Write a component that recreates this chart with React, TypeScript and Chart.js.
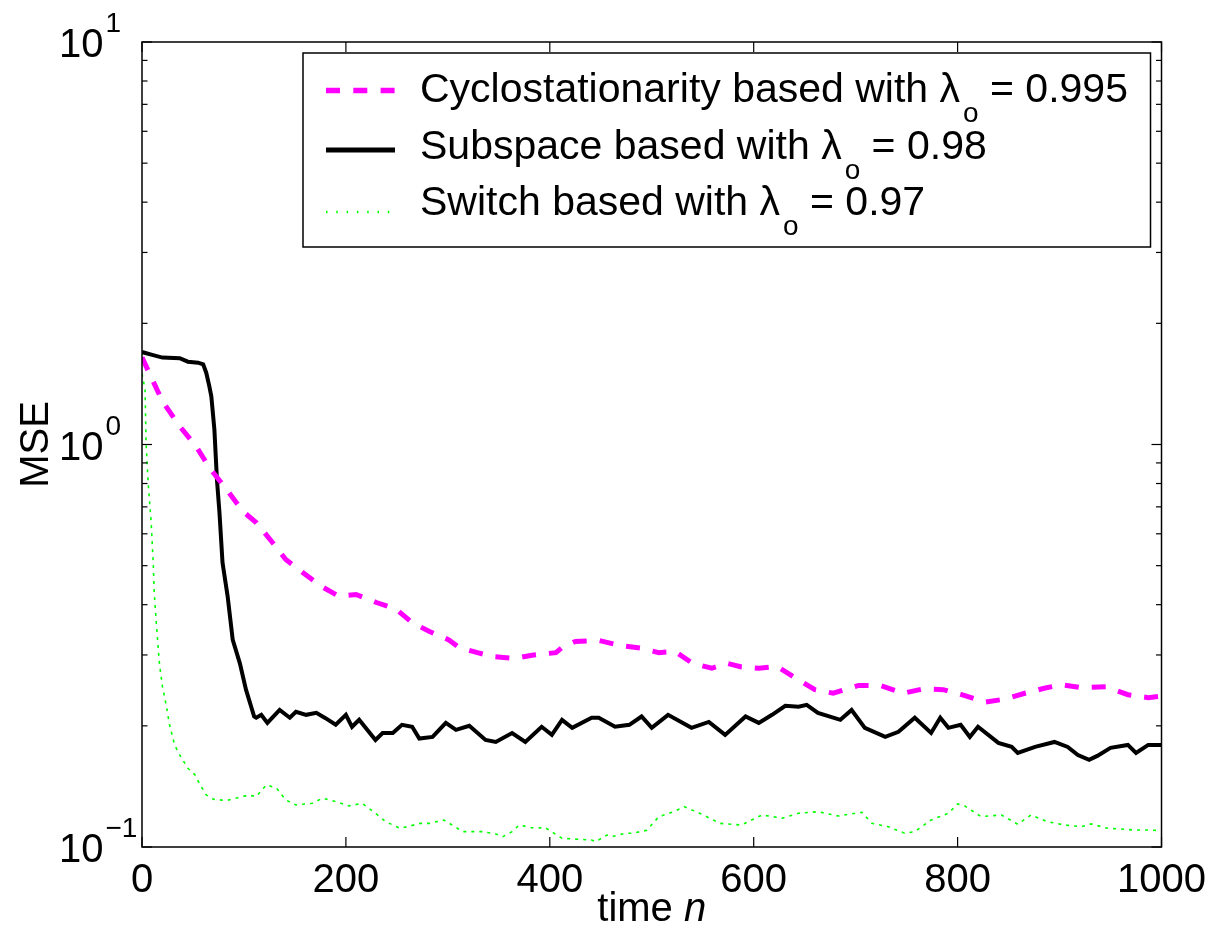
import React, { useEffect, useRef } from 'react';
import { Chart, registerables } from 'chart.js';

Chart.register(...registerables);

const FONT = '"Liberation Sans", Arial, Helvetica, sans-serif';

// ---- data ----
const cycloN = [0, 20, 37, 53, 66, 83, 99, 112, 127, 141, 158, 176, 193, 210, 230, 249, 265, 282, 301, 311, 329, 345, 365, 384, 406, 412, 425, 448, 471, 489, 507, 523, 540, 559, 574, 588, 605, 623, 641, 660, 678, 703, 724, 747, 766, 786, 804, 827, 846, 866, 885, 902, 921, 946, 967, 987, 1000];
const cycloMSE = [1.646, 1.281, 1.11, 0.99, 0.877, 0.773, 0.682, 0.64, 0.575, 0.518, 0.48, 0.444, 0.42, 0.424, 0.405, 0.39, 0.361, 0.343, 0.327, 0.313, 0.304, 0.297, 0.294, 0.3, 0.304, 0.313, 0.324, 0.326, 0.316, 0.312, 0.304, 0.306, 0.286, 0.278, 0.286, 0.28, 0.278, 0.281, 0.263, 0.246, 0.241, 0.252, 0.252, 0.241, 0.247, 0.246, 0.239, 0.229, 0.233, 0.241, 0.248, 0.253, 0.249, 0.25, 0.239, 0.235, 0.237];

const subspaceN = [0, 10, 20, 37, 45, 55, 60, 63, 66, 68, 71, 73.5, 76, 79, 84, 89, 96, 102, 110, 112, 117, 123, 135, 145, 151, 161, 171, 180, 190, 200, 206, 213, 229, 236, 246, 255, 265, 272, 285, 298, 308, 321, 337, 347, 363, 376, 392, 402, 412, 422, 441, 448, 464, 478, 490, 500, 516, 539, 556, 572, 592, 605, 618, 631, 644, 652, 663, 685, 696, 709, 729, 742, 758, 774, 783, 791, 803, 812, 820, 840, 853, 859, 876, 895, 908, 918, 929, 937, 950, 967, 975, 987, 1000];
const subspaceMSE = [1.697, 1.67, 1.644, 1.638, 1.606, 1.597, 1.581, 1.508, 1.397, 1.318, 1.09, 0.818, 0.676, 0.508, 0.4195, 0.327, 0.286, 0.246, 0.211, 0.2095, 0.213, 0.2034, 0.219, 0.2095, 0.2167, 0.213, 0.2154, 0.209, 0.2012, 0.213, 0.1989, 0.207, 0.1845, 0.192, 0.192, 0.2012, 0.199, 0.186, 0.1877, 0.2034, 0.1954, 0.2, 0.1845, 0.1824, 0.192, 0.1824, 0.1989, 0.1899, 0.207, 0.1977, 0.2095, 0.2095, 0.1989, 0.2012, 0.211, 0.1977, 0.213, 0.1977, 0.2045, 0.1899, 0.211, 0.2034, 0.213, 0.2243, 0.223, 0.2255, 0.2154, 0.207, 0.219, 0.1977, 0.1877, 0.1932, 0.2095, 0.192, 0.2095, 0.1977, 0.2012, 0.1877, 0.1989, 0.1814, 0.1773, 0.1713, 0.1773, 0.1824, 0.1773, 0.1693, 0.1646, 0.1684, 0.1763, 0.1793, 0.1713, 0.1793, 0.1793];

const switchN = [0, 3, 4, 6, 9, 11, 12, 14, 17, 20, 24, 27, 32, 37, 45, 52, 57, 63, 70, 83, 92, 105, 112, 122, 132, 141, 151, 167, 177, 190, 203, 216, 229, 239, 253, 260, 273, 282, 296, 307, 314, 321, 334, 347, 354, 363, 370, 385, 395, 412, 428, 441, 445, 456, 461, 474, 481, 495, 507, 520, 532, 547, 567, 588, 608, 628, 644, 663, 683, 706, 716, 732, 748, 758, 774, 791, 800, 807, 823, 843, 859, 872, 888, 905, 921, 931, 947, 964, 973, 986, 1000];
const switchMSE = [1.5, 1.37, 1.01, 0.805, 0.64, 0.509, 0.428, 0.361, 0.287, 0.2506, 0.2234, 0.2012, 0.1793, 0.1693, 0.1569, 0.1511, 0.1427, 0.1347, 0.1314, 0.1304, 0.1322, 0.1347, 0.1334, 0.1427, 0.14, 0.1309, 0.1272, 0.1284, 0.1322, 0.1296, 0.1265, 0.1284, 0.1213, 0.1156, 0.1113, 0.1123, 0.1145, 0.1145, 0.1167, 0.1123, 0.1092, 0.1092, 0.1092, 0.1077, 0.1061, 0.1092, 0.1134, 0.1113, 0.1119, 0.1051, 0.1045, 0.1041, 0.1031, 0.1071, 0.1061, 0.1082, 0.1082, 0.11, 0.119, 0.122, 0.1259, 0.1213, 0.1145, 0.1134, 0.1201, 0.1179, 0.1213, 0.1224, 0.1194, 0.122, 0.1145, 0.1123, 0.1082, 0.1092, 0.1167, 0.1213, 0.1279, 0.1265, 0.119, 0.1201, 0.1139, 0.1201, 0.1156, 0.1134, 0.1123, 0.1141, 0.1113, 0.1107, 0.1102, 0.1102, 0.1098];

const xTicks = [0, 200, 400, 600, 800, 1000];
const yDecades = [0.1, 1, 10];
const yExponents = ['\u22121', '0', '1'];
const legendTexts = ['Cyclostationarity based with \u03bb', 'Subspace based with \u03bb', 'Switch based with \u03bb'];
const legendSub = 'o';
const legendValues = [' = 0.995', ' = 0.98', ' = 0.97'];
const xTitle = 'time ';
const xTitleItalic = 'n';
const yTitle = 'MSE';

const toPts = (xs: number[], ys: number[]) => xs.map((x, i) => ({ x, y: ys[i] }));

const line = (ctx: CanvasRenderingContext2D, x1: number, y1: number, x2: number, y2: number) => {
  ctx.beginPath();
  ctx.moveTo(x1, y1);
  ctx.lineTo(x2, y2);
  ctx.stroke();
};

const decor = {
  id: 'matlabDecor',
  afterDatasetsDraw(chart: any) {
    const { ctx, chartArea: a, scales } = chart;
    const xs = scales.x;
    const ys = scales.y;
    ctx.save();
    ctx.strokeStyle = '#000';
    ctx.fillStyle = '#000';
    // inward ticks
    ctx.lineWidth = 1.2;
    for (const v of xTicks) {
      const px = xs.getPixelForValue(v);
      line(ctx, px, a.bottom, px, a.bottom - 10);
      line(ctx, px, a.top, px, a.top + 10);
    }
    for (const d of yDecades) {
      for (let m = 1; m <= 9; m++) {
        const v = d * m;
        if (v > 10.0001) break;
        const py = ys.getPixelForValue(v);
        const len = m === 1 ? 10 : 5.5;
        line(ctx, a.left, py, a.left + len, py);
        line(ctx, a.right, py, a.right - len, py);
      }
    }
    // frame
    ctx.lineWidth = 1.5;
    ctx.strokeRect(a.left, a.top, a.right - a.left, a.bottom - a.top);

    // legend
    const bl = a.left + 161;
    const bt = a.top + 11;
    const br = a.right - 11;
    const bb = a.top + 205;
    ctx.fillStyle = '#fff';
    ctx.fillRect(bl, bt, br - bl, bb - bt);
    ctx.strokeStyle = '#000';
    ctx.lineWidth = 1.5;
    ctx.strokeRect(bl, bt, br - bl, bb - bt);
    const ds = chart.data.datasets;
    const lineYs = [37.5, 97, 159];
    const textYs = [49, 106, 162];
    ds.forEach((d: any, i: number) => {
      ctx.save();
      ctx.strokeStyle = d.borderColor;
      ctx.lineWidth = d.legendWidth;
      ctx.setLineDash(d.legendDash);
      ctx.lineCap = 'butt';
      line(ctx, bl + 23, bt + lineYs[i], bl + 92, bt + lineYs[i]);
      ctx.restore();
      ctx.fillStyle = '#000';
      ctx.textAlign = 'left';
      ctx.textBaseline = 'alphabetic';
      ctx.font = `41px ${FONT}`;
      let tx = bl + 117;
      const ty = bt + textYs[i];
      ctx.fillText(legendTexts[i], tx, ty);
      tx += ctx.measureText(legendTexts[i]).width;
      ctx.font = `28px ${FONT}`;
      ctx.fillText(legendSub, tx + 3, ty + 20);
      tx += ctx.measureText(legendSub).width + 3;
      ctx.font = `41px ${FONT}`;
      ctx.fillText(legendValues[i], tx, ty);
    });
    ctx.restore();
  },
  afterDraw(chart: any) {
    const { ctx, chartArea: a, scales } = chart;
    const ys = scales.y;
    ctx.save();
    ctx.fillStyle = '#000';
    ctx.textBaseline = 'alphabetic';
    ctx.textAlign = 'left';
    yDecades.forEach((v, i) => {
      const py = ys.getPixelForValue(v);
      ctx.font = `40px ${FONT}`;
      const bx = a.left - 83;
      ctx.fillText('10', bx, py + 15);
      const w = ctx.measureText('10').width;
      ctx.font = `28px ${FONT}`;
      ctx.fillText(yExponents[i], bx + w + 2, py - 10);
    });
    // y title
    ctx.save();
    ctx.font = `40px ${FONT}`;
    ctx.translate(a.left - 94, (a.top + a.bottom) / 2);
    ctx.rotate(-Math.PI / 2);
    ctx.textAlign = 'center';
    ctx.fillText(yTitle, 0, 0);
    ctx.restore();
    // x title
    ctx.font = `40px ${FONT}`;
    const w1 = ctx.measureText(xTitle).width;
    ctx.font = `italic 40px ${FONT}`;
    const w2 = ctx.measureText(xTitleItalic).width;
    const cx = (a.left + a.right) / 2;
    const sx = cx - (w1 + w2) / 2;
    ctx.font = `40px ${FONT}`;
    ctx.fillText(xTitle, sx, a.bottom + 74);
    ctx.font = `italic 40px ${FONT}`;
    ctx.fillText(xTitleItalic, sx + w1, a.bottom + 74);
    ctx.restore();
  },
};

export default function App() {
  const ref = useRef<HTMLCanvasElement>(null);
  useEffect(() => {
    if (!ref.current) return;
    const chart = new Chart(ref.current, {
      type: 'line',
      data: {
        datasets: [
          {
            label: 'Cyclostationarity based with λo = 0.995',
            data: toPts(cycloN, cycloMSE),
            borderColor: '#ff00ff',
            borderWidth: 5,
            borderDash: [14, 13],
            pointRadius: 0,
            tension: 0,
            legendWidth: 5.5,
            legendDash: [14, 13.3],
          } as any,
          {
            label: 'Subspace based with λo = 0.98',
            data: toPts(subspaceN, subspaceMSE),
            borderColor: '#000000',
            borderWidth: 4,
            pointRadius: 0,
            tension: 0,
            legendWidth: 5,
            legendDash: [],
          } as any,
          {
            label: 'Switch based with λo = 0.97',
            data: toPts(switchN, switchMSE),
            borderColor: '#00ff00',
            borderWidth: 1.6,
            borderDash: [3, 5],
            pointRadius: 0,
            tension: 0,
            legendWidth: 2.5,
            legendDash: [1.5, 8.8],
          } as any,
        ],
      },
      options: {
        animation: false,
        responsive: false,
        devicePixelRatio: 1,
        layout: { padding: { left: 142, top: 42, right: 53, bottom: 0 } },
        plugins: { legend: { display: false }, tooltip: { enabled: false } },
        scales: {
          x: {
            type: 'linear',
            min: 0,
            max: 1000,
            grid: { display: false, drawTicks: false },
            border: { display: false },
            afterFit: (scale: any) => {
              scale.height = 90;
            },
            ticks: {
              stepSize: 200,
              padding: 10,
              color: '#000',
              font: { family: FONT, size: 40 },
              maxRotation: 0,
              callback: (v: any) => String(v),
            },
          },
          y: {
            type: 'logarithmic',
            min: 0.1,
            max: 10,
            display: false,
          },
        },
      },
      plugins: [decor],
    });
    return () => chart.destroy();
  }, []);
  return (
    <div style={{ position: 'fixed', left: 0, top: 0, width: 1216, height: 937, background: '#fff' }}>
      <canvas ref={ref} width={1216} height={937} style={{ display: 'block', width: 1216, height: 937 }} />
    </div>
  );
}
